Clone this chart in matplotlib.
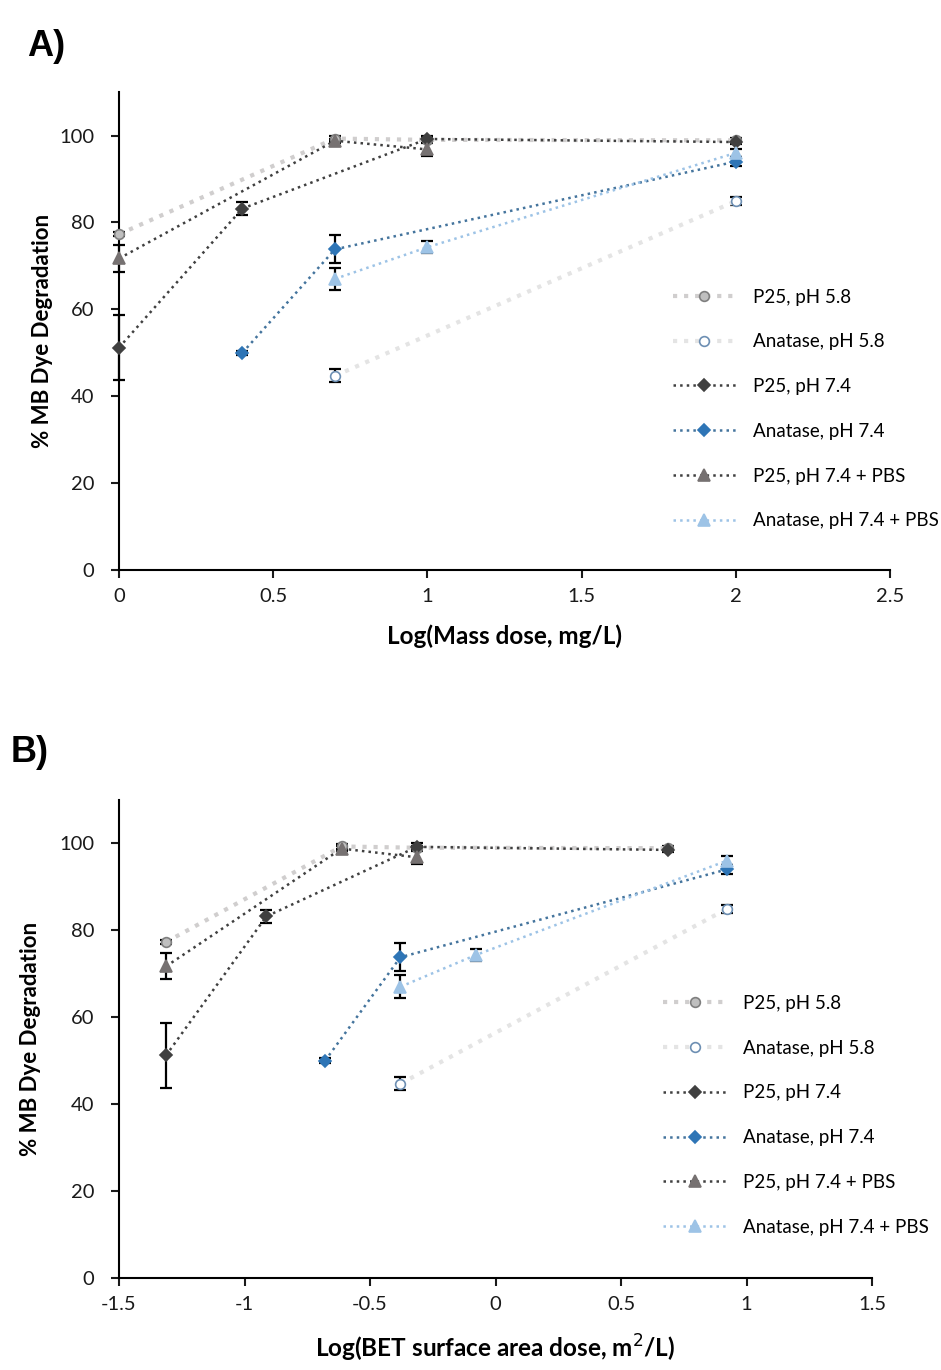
import matplotlib
matplotlib.use("Agg")
import matplotlib.pyplot as plt
from matplotlib.ticker import FuncFormatter

plt.rcParams['font.family'] = ['Lato', 'DejaVu Sans']

# ---- data ----
labels = ["P25, pH 5.8", "Anatase, pH 5.8", "P25, pH 7.4",
          "Anatase, pH 7.4", "P25, pH 7.4 + PBS", "Anatase, pH 7.4 + PBS"]

# panel A: log(mass dose, mg/L)
mass_p25_58 = [0, 0.7, 1, 2]
mass_ana_58 = [0.7, 2]
mass_p25_74 = [0, 0.4, 1, 2]
mass_ana_74 = [0.4, 0.7, 2]
mass_p25_pbs = [0, 0.7, 1]
mass_ana_pbs = [0.7, 1, 2]

# panel B: log(BET surface area dose, m2/L)
bet_p25_58 = [-1.313, -0.613, -0.313, 0.687]
bet_ana_58 = [-0.379, 0.921]
bet_p25_74 = [-1.313, -0.913, -0.313, 0.687]
bet_ana_74 = [-0.679, -0.379, 0.921]
bet_p25_pbs = [-1.313, -0.613, -0.313]
bet_ana_pbs = [-0.379, -0.079, 0.921]

# % MB dye degradation and error
deg_p25_58 = [77.3, 99.3, 99.0, 98.9]
err_p25_58 = [0.5, 0.5, 0.5, 0.5]
deg_ana_58 = [44.7, 84.9]
err_ana_58 = [1.5, 1.0]
deg_p25_74 = [51.2, 83.2, 99.2, 98.5]
err_p25_74 = [7.4, 1.5, 0.8, 0.5]
deg_ana_74 = [50.0, 73.8, 94.0]
err_ana_74 = [0.5, 3.2, 1.0]
deg_p25_pbs = [71.7, 98.8, 96.8]
err_p25_pbs = [3.0, 0.5, 1.5]
deg_ana_pbs = [67.0, 74.3, 96.0]
err_ana_pbs = [2.6, 1.4, 1.0]

# styles: (line colour, line width, marker, marker face, marker edge, marker size)
styles = [
    ("#d0cece", 3.0, "o", "#bfbfbf", "#7f7f7f", 7),
    ("#e4e4e4", 3.0, "o", "#ffffff", "#6d8fb3", 7),
    ("#404040", 1.8, "D", "#404040", "#404040", 6),
    ("#44749d", 1.8, "D", "#2e75b6", "#2e75b6", 6),
    ("#404040", 1.8, "^", "#767171", "#767171", 8),
    ("#9dc3e6", 1.8, "^", "#9dc3e6", "#9dc3e6", 8),
]


def draw_panel(ax, xs, ys, errs, xlim, xticks, xlabel, legend_anchor, ylabel_pad):
    for x, y, e, lab, st in zip(xs, ys, errs, labels, styles):
        lc, lw, mk, mf, me, ms = st
        ax.errorbar(x, y, yerr=e, fmt='none', ecolor='black', elinewidth=1.6,
                    capsize=4, capthick=1.6, zorder=2, clip_on=False)
        ax.plot(x, y, linestyle=':', color=lc, linewidth=lw, marker=mk,
                markerfacecolor=mf, markeredgecolor=me, markersize=ms,
                markeredgewidth=1.2, label=lab, zorder=3, clip_on=False)

    ax.set_xlim(*xlim)
    ax.set_ylim(0, 110)
    ax.set_xticks(xticks)
    ax.set_yticks([0, 20, 40, 60, 80, 100])
    ax.xaxis.set_major_formatter(FuncFormatter(lambda v, p: "%g" % v))
    ax.spines['top'].set_visible(False)
    ax.spines['right'].set_visible(False)
    ax.spines['left'].set_linewidth(1.5)
    ax.spines['bottom'].set_linewidth(1.5)
    ax.tick_params(direction='out', length=6, width=1.5, labelsize=14.5, colors='#1a1a1a')
    ax.tick_params(axis='x', pad=7)
    ax.tick_params(axis='y', pad=12)
    ax.set_ylabel("% MB Dye Degradation", fontsize=16, fontweight='bold',
                  labelpad=ylabel_pad)
    ax.set_xlabel(xlabel, fontsize=17.5, fontweight='bold', labelpad=14)
    ax.legend(loc='upper left', bbox_to_anchor=legend_anchor, frameon=False,
              fontsize=13.5, labelspacing=1.48, handlelength=3.4, handletextpad=0.9,
              borderpad=0, borderaxespad=0)


fig = plt.figure(figsize=(9.41, 13.7), dpi=100)

ax_a = fig.add_axes([0.1265, 0.5839, 0.8193, 0.3489])
draw_panel(ax_a,
           [mass_p25_58, mass_ana_58, mass_p25_74, mass_ana_74, mass_p25_pbs, mass_ana_pbs],
           [deg_p25_58, deg_ana_58, deg_p25_74, deg_ana_74, deg_p25_pbs, deg_ana_pbs],
           [err_p25_58, err_ana_58, err_p25_74, err_ana_74, err_p25_pbs, err_ana_pbs],
           (0, 2.5), [0, 0.5, 1, 1.5, 2, 2.5], "Log(Mass dose, mg/L)", (0.718, 0.589), 4)

ax_b = fig.add_axes([0.1265, 0.0672, 0.8002, 0.3489])
draw_panel(ax_b,
           [bet_p25_58, bet_ana_58, bet_p25_74, bet_ana_74, bet_p25_pbs, bet_ana_pbs],
           [deg_p25_58, deg_ana_58, deg_p25_74, deg_ana_74, deg_p25_pbs, deg_ana_pbs],
           [err_p25_58, err_ana_58, err_p25_74, err_ana_74, err_p25_pbs, err_ana_pbs],
           (-1.5, 1.5), [-1.5, -1, -0.5, 0, 0.5, 1, 1.5],
           "Log(BET surface area dose, m$^2$/L)", (0.722, 0.592), 13)

panel_font = ['Liberation Sans Narrow', 'Liberation Sans', 'DejaVu Sans']
fig.text(0.029, 0.966, "A)", fontsize=26, fontweight='bold', va='center', ha='left',
         family=panel_font)
fig.text(0.011, 0.451, "B)", fontsize=26, fontweight='bold', va='center', ha='left',
         family=panel_font)

fig.savefig("out.png", dpi=100)
